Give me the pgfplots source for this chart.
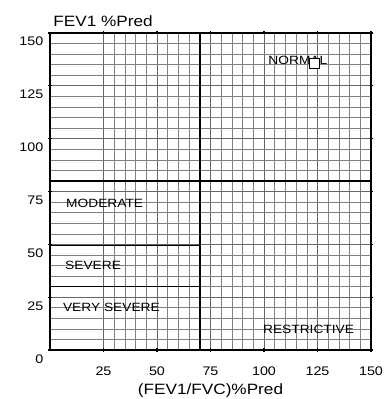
\documentclass[border=0pt]{standalone}
\usepackage{fontspec}
\setmainfont[FakeStretch=1.15]{Liberation Sans}
\usepackage{pgfplots}
\pgfplotsset{compat=1.18}

\begin{document}
\begin{tikzpicture}
\begin{axis}[
  name=ax,
  scale only axis,
  width=321bp, height=317bp,
  xmin=0, xmax=150, ymin=0, ymax=150,
  xtick={25,50,...,150},
  ytick={0,25,...,150},
  minor tick num=4,
  grid=both,
  major grid style={black!60, line width=0.7bp},
  minor grid style={black!50, line width=0.5bp},
  axis line style={line width=1.4bp},
  tick style={black, line width=1.2bp},
  major tick length=3bp, minor tick length=0pt,
  tick align=center,
  clip=false,
  /pgf/number format/assume math mode=true,
  ticklabel style={font=\fontsize{12.5}{13}\selectfont, inner sep=0pt},
  xticklabel style={anchor=base, yshift=-24bp},
  yticklabel style={anchor=base east, xshift=-5bp, yshift=-13bp},
]
% region borders
\addplot[black, line width=1.6bp] coordinates {(0,80) (150,80)};
\addplot[black, line width=1.6bp] coordinates {(70,0) (70,150)};
\addplot[black, line width=1.6bp] coordinates {(0,49.5) (70,49.5)};
\addplot[black, line width=1.6bp] coordinates {(0,30) (70,30)};

\node[anchor=base west, inner sep=0pt, font=\fontsize{12}{12}\selectfont] at (axis cs:7.5,67.5) {MODERATE};
\node[anchor=base west, inner sep=0pt, font=\fontsize{12}{12}\selectfont] at (axis cs:7,38) {SEVERE};
\node[anchor=base west, inner sep=0pt, font=\fontsize{12}{12}\selectfont] at (axis cs:6,18) {VERY SEVERE};
\node[anchor=base west, inner sep=0pt, font=\fontsize{12}{12}\selectfont] at (axis cs:99.5,8) {RESTRICTIVE};
\node[anchor=base west, inner sep=0pt, font=\fontsize{12}{12}\selectfont] at (axis cs:102,135) {NORMAL};

% patient point
\addplot[only marks, mark=square*, mark size=5bp,
  mark options={fill=white, draw=black, line width=1.4bp}] coordinates {(123.6,135.5)};

% axis titles
\node[anchor=base west, inner sep=0pt, font=\fontsize{15}{15}\selectfont] at (axis cs:1.5,150) [yshift=6bp] {FEV1 \%Pred};
\node[anchor=base, inner sep=0pt, font=\fontsize{15}{15}\selectfont] at (axis cs:75,0) [yshift=-44bp] {(FEV1/FVC)\%Pred};
\end{axis}
\path (ax.south west) ++(-50bp,-49bp) rectangle ++(392bp,399bp);
\end{tikzpicture}
\end{document}
